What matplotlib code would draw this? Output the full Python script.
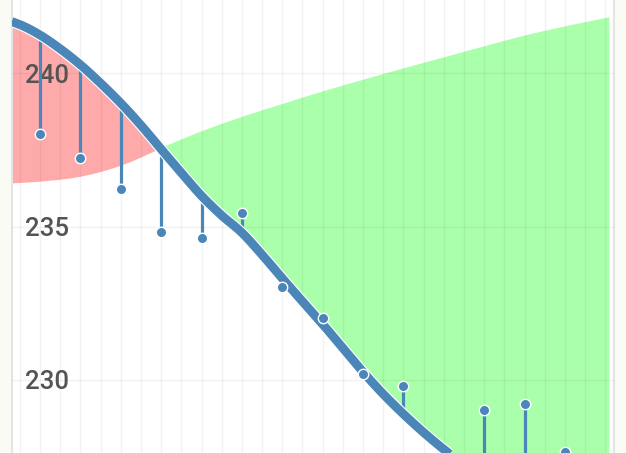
import matplotlib
matplotlib.use("Agg")
import matplotlib.pyplot as plt
import matplotlib.patheffects as pe
import numpy as np

# --- Données ---
# courbe lissée (trait épais), lue tous les 0.5
x_courbe = [0.3, 0.5, 1.0, 1.5, 2.0, 2.5, 3.0, 3.5, 4.0, 4.5, 5.0, 5.5, 6.0, 6.5,
            7.0, 7.5, 8.0, 8.5, 9.0, 9.5, 10.0, 10.5, 11.0, 11.5, 12.0, 12.5,
            13.0, 13.5, 14.0, 14.5, 15.1]
y_courbe = [241.68, 241.58, 241.24, 240.79, 240.27, 239.67, 239.02, 238.30, 237.52,
            236.75, 236.00, 235.36, 234.80, 234.08, 233.31, 232.56, 231.82, 231.04,
            230.26, 229.54, 228.89, 228.29, 227.74, 227.24, 226.80, 226.43, 226.12,
            225.87, 225.67, 225.52, 225.40]

# courbe de référence (bord de la zone colorée)
x_ref = [0.3, 1, 2, 3, 4, 5, 6, 7, 8, 9, 10, 11, 12, 13, 14, 15.1]
y_ref = [236.42, 236.48, 236.64, 237.00, 237.56, 238.10, 238.57, 238.99, 239.40,
         239.78, 240.15, 240.51, 240.87, 241.22, 241.52, 241.82]

# observations
x_obs = [1, 2, 3, 4, 5, 6, 7, 8, 9, 10, 11, 12, 13, 14]
y_obs = [238.01, 237.22, 236.21, 234.81, 234.62, 235.43, 233.04, 232.01, 230.20,
         229.81, 227.00, 229.02, 229.22, 227.66]

yticks = [230, 235, 240]

bleu = "#4b86b8"


def lisse(x, y, n=24):
    # tracé cubique (Hermite) entre les points lus, pour un trait sans angles
    x = np.asarray(x, float)
    y = np.asarray(y, float)
    m = np.gradient(y, x)
    t = np.linspace(0, 1, n, endpoint=False)
    h00 = 2 * t**3 - 3 * t**2 + 1
    h10 = t**3 - 2 * t**2 + t
    h01 = -2 * t**3 + 3 * t**2
    h11 = t**3 - t**2
    xs, ys = [], []
    for i in range(len(x) - 1):
        h = x[i + 1] - x[i]
        xs.append(x[i] + t * h)
        ys.append(h00 * y[i] + h10 * h * m[i] + h01 * y[i + 1] + h11 * h * m[i + 1])
    xs.append([x[-1]])
    ys.append([y[-1]])
    return np.concatenate(xs), np.concatenate(ys)


fig = plt.figure(figsize=(6.26, 4.53), dpi=100)
fig.patch.set_facecolor("#fbfbf6")
ax = fig.add_axes([12 / 626, 0, 602 / 626, 1])
ax.set_facecolor("white")

xc, yc_l = lisse(x_courbe, y_courbe)
xr, yr_l = lisse(x_ref, y_ref)

# grille dense commune pour le remplissage
xs = np.linspace(x_courbe[0], x_courbe[-1], 1200)
yc = np.interp(xs, xc, yc_l)
yr = np.interp(xs, xr, yr_l)
ax.fill_between(xs, yc, yr, where=yc >= yr, interpolate=True,
                color="#ffaaaa", linewidth=0, zorder=1)
ax.fill_between(xs, yc, yr, where=yc <= yr, interpolate=True,
                color="#aaffaa", linewidth=0, zorder=1)

# tiges des résidus
y_base = np.interp(x_obs, xc, yc_l)
ax.vlines(x_obs, y_base, y_obs, color=bleu, linewidth=2.3, zorder=3)

# courbe épaisse avec liseré blanc
ax.plot(xc, yc_l, color=bleu, linewidth=6.4, solid_capstyle="butt",
        solid_joinstyle="round", zorder=4,
        path_effects=[pe.Stroke(linewidth=8.0, foreground="white"), pe.Normal()])

# points
ax.plot(x_obs, y_obs, "o", color=bleu, markersize=7.5, markeredgecolor="white",
        markeredgewidth=1.0, zorder=5)

# axes
ax.set_xlim(0.307, 15.215)
ax.set_ylim(227.62, 242.38)
ax.set_xticks(np.arange(0.5, 15.2, 0.5))
ax.set_yticks(yticks)
ax.set_xticklabels([])
ax.grid(True, color="black", alpha=0.05, linewidth=1.0, zorder=6)
ax.set_axisbelow(False)
ax.tick_params(axis="x", length=0)
ax.tick_params(axis="y", length=0, pad=-9.5, labelsize=18.5, labelcolor="#545454")
for lab in ax.get_yticklabels():
    lab.set_horizontalalignment("left")
    lab.set_family(["Roboto", "DejaVu Sans"])
    lab.set_fontweight("medium")

for s in ["top", "bottom"]:
    ax.spines[s].set_visible(False)
for s in ["left", "right"]:
    ax.spines[s].set_color("#e4e4e0")
    ax.spines[s].set_linewidth(1.5)

fig.savefig("out.png", dpi=100, facecolor=fig.get_facecolor())
